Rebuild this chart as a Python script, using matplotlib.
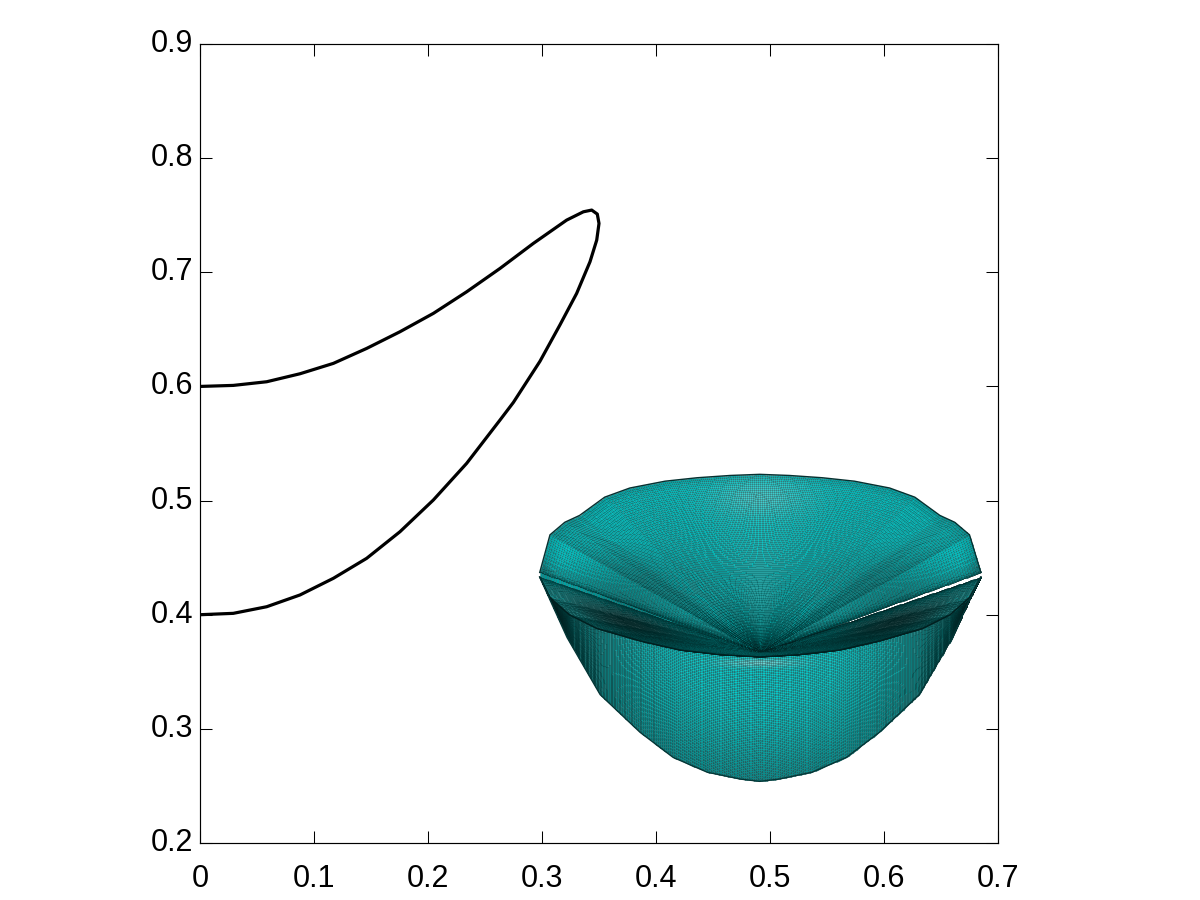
import numpy as np
import matplotlib
matplotlib.use("Agg")
import matplotlib.pyplot as plt

# Meridian curve
curve_x = [0, .0292, .0585, .0877, .117, .1462, .1754, .2047, .2339, .2632, .2924, .3216, .3363, .3436, .3485,
           .3500, .3480, .3421, .3304, .3158, .2982, .2749, .2632, .2339, .2047, .1754, .1462, .117, .0877, .0585, .0292, 0]
curve_y = [.600, .6009, .6041, .6111, .6202, .6333, .6479, .6640, .6829, .7034, .7253, .7457, .7530, .7545, .7510,
           .7428, .7282, .7092, .6815, .654, .622, .586, .5706, .5326, .5005, .4727, .4494, .4319, .4173, .4070, .4012, .400]

# Bowl silhouette
rim_top_x = [.298, .307, .320, .333, .355, .377, .408, .436, .465, .491, .517, .546, .574, .605, .627, .649, .662, .675, .685]
rim_top_y = [.437, .470, .481, .487, .503, .511, .517, .520, .522, .523, .522, .520, .517, .511, .503, .487, .481, .470, .437]
rim_front_x = [.298, .307, .324, .348, .386, .421, .456, .491, .526, .561, .596, .634, .658, .675, .685]
rim_front_y = [.433, .415, .400, .388, .377, .369, .365, .363, .365, .369, .377, .388, .400, .415, .433]
bottom_x = [.298, .307, .322, .351, .386, .415, .445, .474, .491, .508, .537, .567, .596, .631, .660, .675, .685]
bottom_y = [.433, .413, .380, .330, .297, .275, .262, .256, .254, .256, .262, .275, .297, .330, .380, .413, .433]
pole_x, pole_y = .491, .367

x_ticks = [0, .1, .2, .3, .4, .5, .6, .7]
x_labels = ["0", "0.1", "0.2", "0.3", "0.4", "0.5", "0.6", "0.7"]
y_ticks = [.2, .3, .4, .5, .6, .7, .8, .9]
y_labels = ["0.2", "0.3", "0.4", "0.5", "0.6", "0.7", "0.8", "0.9"]

plt.rcParams["font.family"] = ["Liberation Sans", "DejaVu Sans"]
fig = plt.figure(figsize=(12, 9), dpi=100)
ax = fig.add_axes([200 / 1200, 1 - 843 / 900, 798 / 1200, 799 / 900])
ax.set_xlim(0, .7)
ax.set_ylim(.2, .9)

ax.plot(curve_x, curve_y, color="black", lw=2.3, solid_joinstyle="round", zorder=3)

cx = pole_x
a = (rim_top_x[-1] - rim_top_x[0]) / 2
mid = (rim_top_x[-1] + rim_top_x[0]) / 2
base = np.array([0, .62, .82, .97, 1.0])

def clipcolor(b, g=0.0):
    b = np.clip(b, 0, 1)
    r = np.clip(g * .75, 0, 1)
    return np.dstack([r, b * .80 + g * .05, b * .80 + g * .05])

# ---- outer wall ----
th = np.linspace(np.pi, 0, 321)
wx = mid + a * np.cos(th)
f = np.interp(wx, rim_front_x, rim_front_y)
b = np.interp(wx, bottom_x, bottom_y)
t = np.linspace(0, 1, 73)
X = np.outer(wx, np.ones_like(t)).T
Y = np.array([f + (b - f) * v for v in t])
Xc, Yc = (X[:-1, :-1] + X[1:, 1:]) / 2, (Y[:-1, :-1] + Y[1:, 1:]) / 2
s = (Xc - mid) / a
v = (np.sqrt((Yc - .37) ** 2 * 3.2 + (Xc - mid) ** 2)) / .22
bright = 1.05 - .42 * np.clip(v, 0, 1.3) ** 2.0
bright *= 1 - .35 * np.abs(s) ** 4
grey = .55 * np.exp(-((Yc - .358) / .0035) ** 2) * np.exp(-(s / .17) ** 2)
ax.pcolormesh(X, Y, clipcolor(bright, grey), edgecolors=(0, .12, .12, .38), linewidth=.45, zorder=1, antialiased=True)

# ---- inside of the bowl ----
th = np.linspace(0, 2 * np.pi, 641)
ix = mid + a * np.cos(th)
iy = np.where(np.sin(th) >= 0,
              np.interp(ix, rim_top_x, rim_top_y),
              np.interp(ix, rim_front_x, rim_front_y))
r = np.linspace(0, 1, 81) ** .85
X = np.outer(r, ix - pole_x) + pole_x
Y = np.outer(r, iy - pole_y) + pole_y
Xc, Yc = (X[:-1, :-1] + X[1:, 1:]) / 2, (Y[:-1, :-1] + Y[1:, 1:]) / 2
rc = (r[:-1] + r[1:]) / 2
thc = (th[:-1] + th[1:]) / 2
R, T = np.meshgrid(rc, thc, indexing="ij")
s = (Xc - mid) / a
bright = np.full_like(R, 1.05)
front = np.clip(-np.sin(T), 0, 1)
# Dark inside lip along the front of the rim
shadow = np.exp(-((Yc - (np.interp(Xc, rim_front_x, rim_front_y) + .012)) / .013) ** 2)
bright -= .72 * shadow * np.exp(-((np.abs(s) - .58) / .33) ** 2)
bright -= .30 * np.exp(-((np.abs(s) - .60) / .30) ** 2) * np.exp(-((Yc - .42) / .035) ** 2)
bright -= .18 * np.clip(R - .93, 0, 1) / .07
bright += .0 * front
grey = .33 * np.exp(-((Yc - .503) / .016) ** 2) * np.exp(-(s / .20) ** 2)
ax.pcolormesh(X, Y, clipcolor(bright, grey), edgecolors=(0, .14, .14, .34), linewidth=.45, zorder=1.5, antialiased=True)

# Silhouette edges
ax.plot(rim_top_x, rim_top_y, color="#063030", lw=1.0, zorder=2)
ax.plot(rim_front_x, rim_front_y, color="#012020", lw=1.1, zorder=2)
ax.plot(bottom_x, bottom_y, color="#043636", lw=1.0, zorder=2)

ax.set_xticks(x_ticks, x_labels)
ax.set_yticks(y_ticks, y_labels)
ax.tick_params(axis="both", which="major", direction="in", top=True, right=True, length=8.5,
               width=.75, labelsize=22, colors="black")
ax.tick_params(axis="x", pad=15)
ax.tick_params(axis="y", pad=5)
for lab in ax.get_yticklabels():
    lab.set_verticalalignment("center")
    lab.set_y(lab.get_position()[1])
for sp in ax.spines.values():
    sp.set_linewidth(.85)
    sp.set_zorder(5)
fig.savefig("out.png", dpi=100, facecolor="white")
